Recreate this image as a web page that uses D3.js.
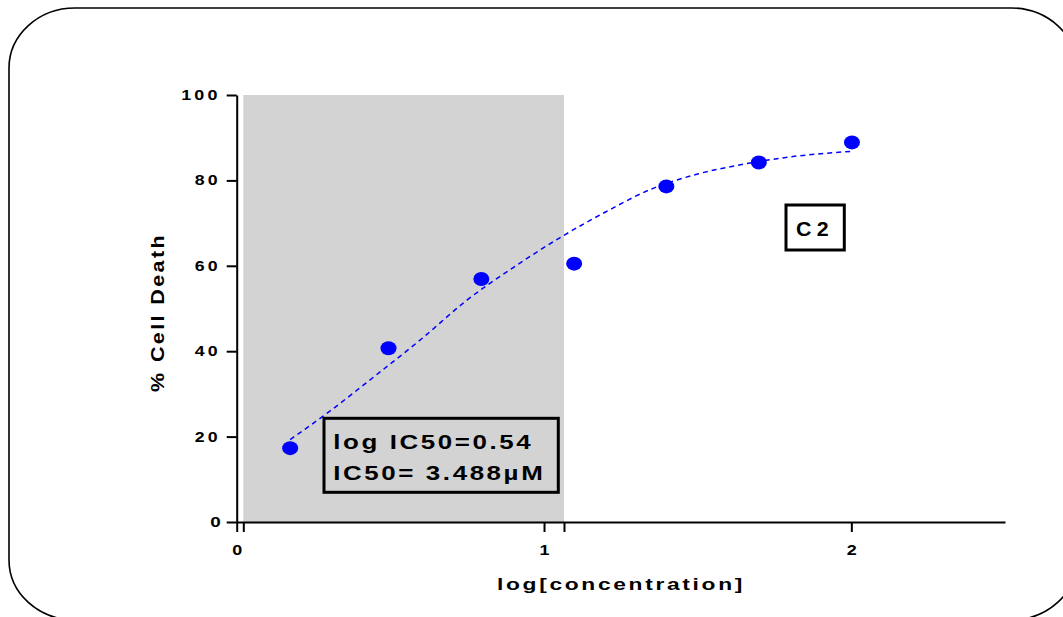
<!DOCTYPE html>
<html>
<head>
<meta charset="utf-8">
<script src="https://cdn.jsdelivr.net/npm/d3@7"></script>
<style>
  html, body { margin: 0; padding: 0; background: #fff; }
  svg { display: block; }
  text { font-family: "Liberation Sans", Arial, sans-serif; font-weight: bold; fill: #000; }
</style>
</head>
<body>
<svg id="chart" width="1063" height="617"></svg>
<script>
// ---- data ----
const logConc   = [0.174, 0.494, 0.796, 1.098, 1.398, 1.699, 2.002];
const cellDeath = [17.3, 40.7, 56.9, 60.5, 78.6, 84.2, 88.9];

// fitted curve
const fitX = [0.174, 0.30, 0.45, 0.60, 0.75, 0.90, 1.05, 1.20, 1.35, 1.50, 1.65, 1.80, 2.00];
const fitY = [19.3, 25.8, 34.2, 42.8, 52.0, 59.6, 66.5, 72.6, 78.0, 81.5, 83.8, 85.5, 86.8];

const shadeRange = [0.0215, 1.065];

const xTicks = [0, 1, 2];
const xTickLabels = ["0", "1", "2"];
const yTicks = [0, 20, 40, 60, 80, 100];
const yTickLabels = ["0", "20", "40", "60", "80", "100"];

const xDomain = [0, 2.5];
const yDomain = [0, 100];

const xTitle = "log[concentration]";
const yTitle = "% Cell Death";
const icLines = ["log IC50=0.54", "IC50= 3.488\u00b5M"];
const seriesLabel = "C2";

// ---- layout ----
const svg = d3.select("#chart");
const L = 236.7, R = 1005, T = 95, B = 522;
const x = d3.scaleLinear().domain(xDomain).range([L, R]);
const y = d3.scaleLinear().domain(yDomain).range([B, T]);

// outer rounded frame
svg.append("rect")
  .attr("x", 9).attr("y", 8).attr("width", 1068).attr("height", 612)
  .attr("rx", 66).attr("ry", 60)
  .attr("fill", "none").attr("stroke", "#000").attr("stroke-width", 1.6);

// shaded region
svg.append("rect")
  .attr("x", x(shadeRange[0])).attr("y", y(100))
  .attr("width", x(shadeRange[1]) - x(shadeRange[0]))
  .attr("height", y(0) - y(100))
  .attr("fill", "#d3d3d3");

function fit(sel, w, ls) {
  sel.attr("textLength", w).attr("lengthAdjust", "spacingAndGlyphs")
     .style("letter-spacing", (ls || 0) + "px");
}

// y axis
const yAxis = svg.append("g").attr("transform", `translate(${L},0)`)
  .call(d3.axisLeft(y).tickValues(yTicks)
    .tickFormat((d, i) => yTickLabels[i]).tickSize(10).tickSizeOuter(0).tickPadding(6));
yAxis.select(".domain").attr("stroke-width", 2);
yAxis.selectAll(".tick line").attr("stroke-width", 2);
yAxis.selectAll(".tick text")
  .style("font-size", "14px").style("font-family", "'Liberation Sans', Arial, sans-serif")
  .style("font-weight", "bold")
  .each(function(d, i) {
    const n = yTickLabels[i].length;
    fit(d3.select(this), n === 1 ? 10.5 : 13.5 * n - 1, n === 1 ? 0 : 2.5);
  });

// x axis
const xAxis = svg.append("g").attr("transform", `translate(0,${B})`)
  .call(d3.axisBottom(x).tickValues(xTicks)
    .tickFormat((d, i) => xTickLabels[i]).tickSize(10).tickSizeOuter(0).tickPadding(13));
xAxis.select(".domain").attr("stroke-width", 2);
xAxis.selectAll(".tick line").attr("stroke-width", 2);
xAxis.selectAll(".tick text")
  .style("font-size", "14px").style("font-family", "'Liberation Sans', Arial, sans-serif")
  .style("font-weight", "bold")
  .each(function() { fit(d3.select(this), 10); });

// extra ticks marking shaded range edges
const xAxis2 = svg.append("g").attr("transform", `translate(0,${B})`)
  .call(d3.axisBottom(x).tickValues(shadeRange).tickFormat("").tickSize(10).tickSizeOuter(0));
xAxis2.select(".domain").remove();
xAxis2.selectAll(".tick line").attr("stroke-width", 2);

// fitted curve
const line = d3.line().x((d, i) => x(fitX[i])).y((d, i) => y(fitY[i])).curve(d3.curveMonotoneX);
svg.append("path")
  .attr("d", line(fitX))
  .attr("fill", "none").attr("stroke", "#0000ff").attr("stroke-width", 1.5)
  .attr("stroke-dasharray", "5,4");

// points
svg.append("g").selectAll("ellipse").data(logConc).join("ellipse")
  .attr("cx", d => x(d)).attr("cy", (d, i) => y(cellDeath[i]))
  .attr("rx", 8).attr("ry", 7).attr("fill", "#0000ff");

// axis titles
fit(svg.append("text").attr("x", 621).attr("y", 590).attr("text-anchor", "middle")
  .style("font-size", "17px").text(xTitle), 248, 2);

fit(svg.append("text").attr("transform", "translate(164,312.5) rotate(-90)")
  .attr("text-anchor", "middle").style("font-size", "18px").text(yTitle), 159, 2);

// IC50 box
svg.append("rect").attr("x", 324).attr("y", 418.3).attr("width", 234.3).attr("height", 74)
  .attr("fill", "none").attr("stroke", "#000").attr("stroke-width", 3);
fit(svg.append("text").attr("x", 333.3).attr("y", 449.3).style("font-size", "20px").text(icLines[0]), 200, 2);
fit(svg.append("text").attr("x", 333.3).attr("y", 480).style("font-size", "20px").text(icLines[1]), 212, 2);

// C2 box
svg.append("rect").attr("x", 786).attr("y", 205).attr("width", 58.3).attr("height", 45)
  .attr("fill", "none").attr("stroke", "#000").attr("stroke-width", 3);
fit(svg.append("text").attr("x", 796).attr("y", 236).style("font-size", "20px").text(seriesLabel), 38, 5);
</script>
</body>
</html>
